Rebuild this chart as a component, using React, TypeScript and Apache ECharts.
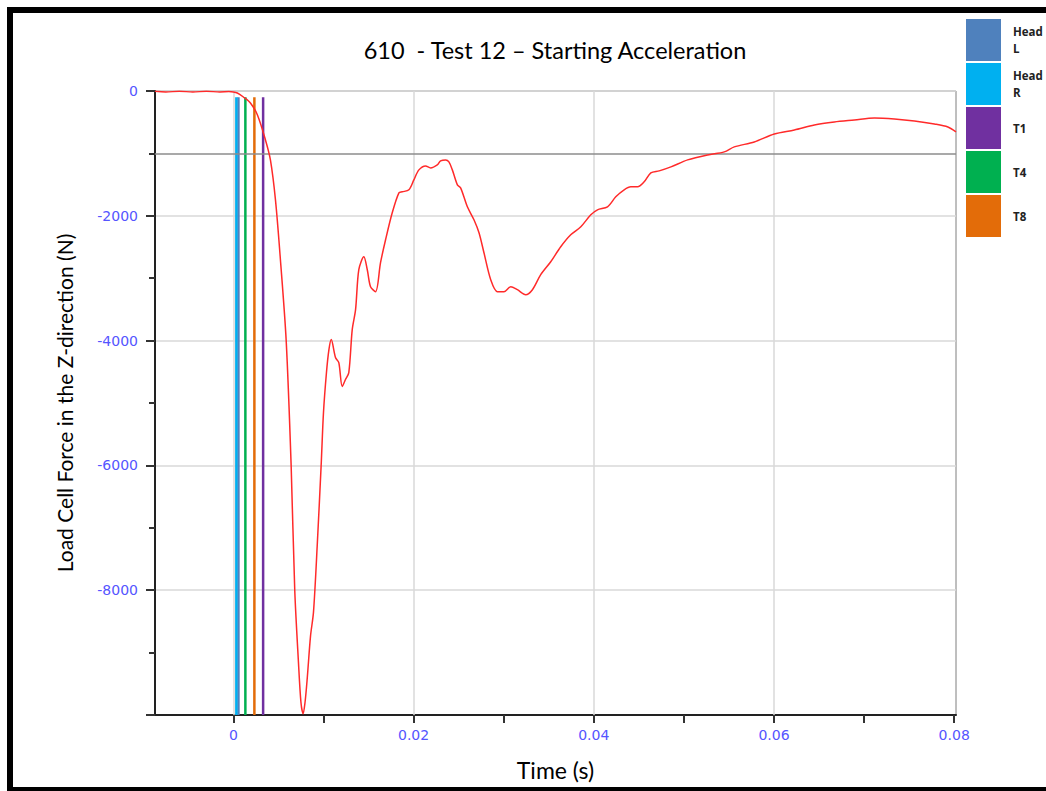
import React, { useEffect, useRef } from "react";
import * as echarts from "echarts";

const timeValues = [
  -0.0087, -0.0075, -0.006, -0.0045, -0.003, -0.0015, -0.0005, 0.0, 0.00044, 0.00111,
  0.00189, 0.00267, 0.00356, 0.00411, 0.00467, 0.00522, 0.00586, 0.00641, 0.00681, 0.00722,
  0.0075, 0.00774, 0.00795, 0.00819, 0.00856, 0.00889, 0.0093, 0.00974, 0.01, 0.01033,
  0.0106, 0.01086, 0.01133, 0.0117, 0.01208, 0.01244, 0.01281, 0.01319, 0.01356, 0.01392,
  0.01448, 0.01486, 0.01522, 0.01578, 0.01633, 0.01689, 0.01763, 0.01837, 0.01874, 0.01948,
  0.02003, 0.02059, 0.02133, 0.02189, 0.02263, 0.023, 0.02356, 0.02392, 0.0243, 0.02486,
  0.02522, 0.02597, 0.0267, 0.02726, 0.02781, 0.02856, 0.0293, 0.03003, 0.03078, 0.03152,
  0.03244, 0.03319, 0.03411, 0.03522, 0.03633, 0.03744, 0.03856, 0.03967, 0.04041, 0.04152,
  0.04244, 0.04337, 0.04411, 0.04486, 0.04559, 0.04633, 0.04726, 0.04856, 0.05041, 0.05263,
  0.05448, 0.05559, 0.05781, 0.06003, 0.06226, 0.06448, 0.0667, 0.06892, 0.07115, 0.07337,
  0.07559, 0.0778, 0.0793, 0.0802,
];

const forceValues = [
  -5, -15, -5, -15, -5, -15, -10, -15, -32, -96,
  -192, -384, -784, -1104, -1744, -2704, -4000, -6000, -8000, -9152,
  -9800, -9980, -9800, -9424, -8736, -8352, -7296, -6000, -5152, -4512,
  -4150, -3984, -4272, -4352, -4736, -4624, -4512, -3824, -3504, -2864,
  -2656, -2864, -3136, -3216, -2752, -2384, -1952, -1632, -1616, -1584,
  -1424, -1264, -1200, -1232, -1184, -1120, -1104, -1136, -1264, -1504,
  -1552, -1856, -2064, -2272, -2592, -3024, -3216, -3216, -3136, -3184,
  -3264, -3184, -2944, -2736, -2496, -2304, -2176, -1984, -1904, -1856,
  -1696, -1584, -1536, -1536, -1456, -1312, -1280, -1216, -1104, -1024,
  -976, -896, -816, -688, -624, -544, -496, -464, -432, -448,
  -480, -528, -576, -656,
];

const sensorNames = ["Head L", "Head R", "T1", "T4", "T8"];
const sensorColors = ["#4F81BD", "#00B0F0", "#7030A0", "#00B050", "#E36C09"];
const sensorTimes = [0.00056, 0.00033, 0.0033, 0.00133, 0.00233];
const sensorLineTop = -100;

const xLabelValues = [0, 0.02, 0.04, 0.06, 0.08];
const xTickValues = [0, 0.01, 0.02, 0.03, 0.04, 0.05, 0.06, 0.07, 0.08];
const xGridValues = [0, 0.02, 0.04, 0.06];
const referenceForce = -1000;

export default function App() {
  const ref = useRef<HTMLDivElement>(null);

  useEffect(() => {
    document.body.style.margin = "0";
    const chart = echarts.init(ref.current!, null, { renderer: "svg" });
    const forceData = timeValues.map((t, i) => [t, forceValues[i]]);
    const labelColor = "#5555ff";

    const sensorSeries = sensorNames.map((name, i) => ({
      name,
      type: "line",
      data: [
        [sensorTimes[i], sensorLineTop],
        [sensorTimes[i], -10000],
      ],
      symbol: "none",
      color: sensorColors[i],
      lineStyle: { color: sensorColors[i], width: 2.5 },
      z: 3,
      silent: true,
    }));

    chart.setOption({
      animation: false,
      backgroundColor: "#ffffff",
      title: {
        text: "610  - Test 12 \u2013 Starting Acceleration",
        left: 550,
        textAlign: "center",
        top: 33,
        textStyle: { fontFamily: "Lato", fontSize: 23.5, fontWeight: "normal", color: "#000" },
      },
      legend: {
        data: sensorNames,
        orient: "vertical",
        left: 961,
        top: 14,
        icon: "rect",
        itemWidth: 35,
        itemHeight: 42,
        itemGap: 2,
        selectedMode: false,
        formatter: (n: string) => n.replace(" ", "\n"),
        textStyle: {
          fontFamily: "Open Sans",
          fontWeight: "bold",
          fontSize: 11.5,
          color: "#222",
          lineHeight: 17,
          padding: [0, 0, 0, 7],
        },
      },
      grid: {
        left: 155,
        right: 90,
        top: 91,
        bottom: 76,
        show: true,
        borderColor: "#7f7f7f",
        borderWidth: 1,
        backgroundColor: "transparent",
      },
      xAxis: {
        type: "value",
        min: -0.0087,
        max: 0.0802,
        name: "Time (s)",
        nameLocation: "middle",
        nameGap: 43,
        nameTextStyle: { fontFamily: "Lato", fontSize: 23, color: "#000" },
        axisLine: { onZero: false, lineStyle: { color: "#222", width: 2 } },
        axisTick: { show: true, customValues: xTickValues, length: 8, lineStyle: { color: "#333", width: 2 } },
        axisLabel: {
          customValues: xLabelValues,
          color: labelColor,
          fontFamily: "DejaVu Sans",
          fontSize: 14,
          margin: 13,
          formatter: (v: number) => String(Math.round(v * 100) / 100),
        },
        splitLine: { show: false },
      },
      yAxis: {
        type: "value",
        min: -10000,
        max: 0,
        interval: 2000,
        name: "Load Cell Force in the Z-direction (N)",
        nameLocation: "middle",
        nameGap: 80,
        nameTextStyle: { fontFamily: "Lato", fontSize: 21, color: "#000" },
        axisLine: { onZero: false, lineStyle: { color: "#222", width: 2 } },
        axisTick: { show: true, length: 9, lineStyle: { color: "#333", width: 2 } },
        minorTick: { show: true, splitNumber: 2, length: 6, lineStyle: { color: "#333", width: 2 } },
        axisLabel: {
          color: labelColor,
          fontFamily: "DejaVu Sans",
          fontSize: 14,
          margin: 17,
          showMinLabel: false,
          formatter: (v: number) => (v === -10000 ? "" : String(v)),
        },
        splitLine: { show: true, lineStyle: { color: "#d9d9d9", width: 1.5 } },
      },
      graphic: [
        {
          type: "rect",
          shape: { x: 10, y: 10, width: 1200, height: 780 },
          style: { fill: "none", stroke: "#000", lineWidth: 6 },
          silent: true,
          z: 100,
        },
      ],
      series: [
        {
          name: "grid",
          type: "line",
          data: [],
          z: 1,
          silent: true,
          markLine: {
            silent: true,
            symbol: "none",
            label: { show: false },
            data: [
              ...xGridValues.map((v) => ({ xAxis: v, lineStyle: { color: "#d9d9d9", width: 1.5, type: "solid" } })),
              { yAxis: referenceForce, lineStyle: { color: "#8c8c8c", width: 1.5, type: "solid" } },
            ],
          },
        },
        ...sensorSeries,
        {
          name: "Force",
          type: "line",
          data: forceData,
          symbol: "none",
          smooth: 0.3,
          lineStyle: { color: "#ff2a2a", width: 1.5 },
          z: 5,
          silent: true,
        },
      ],
    });
    return () => chart.dispose();
  }, []);

  return <div ref={ref} style={{ width: 1046, height: 791 }} />;
}
